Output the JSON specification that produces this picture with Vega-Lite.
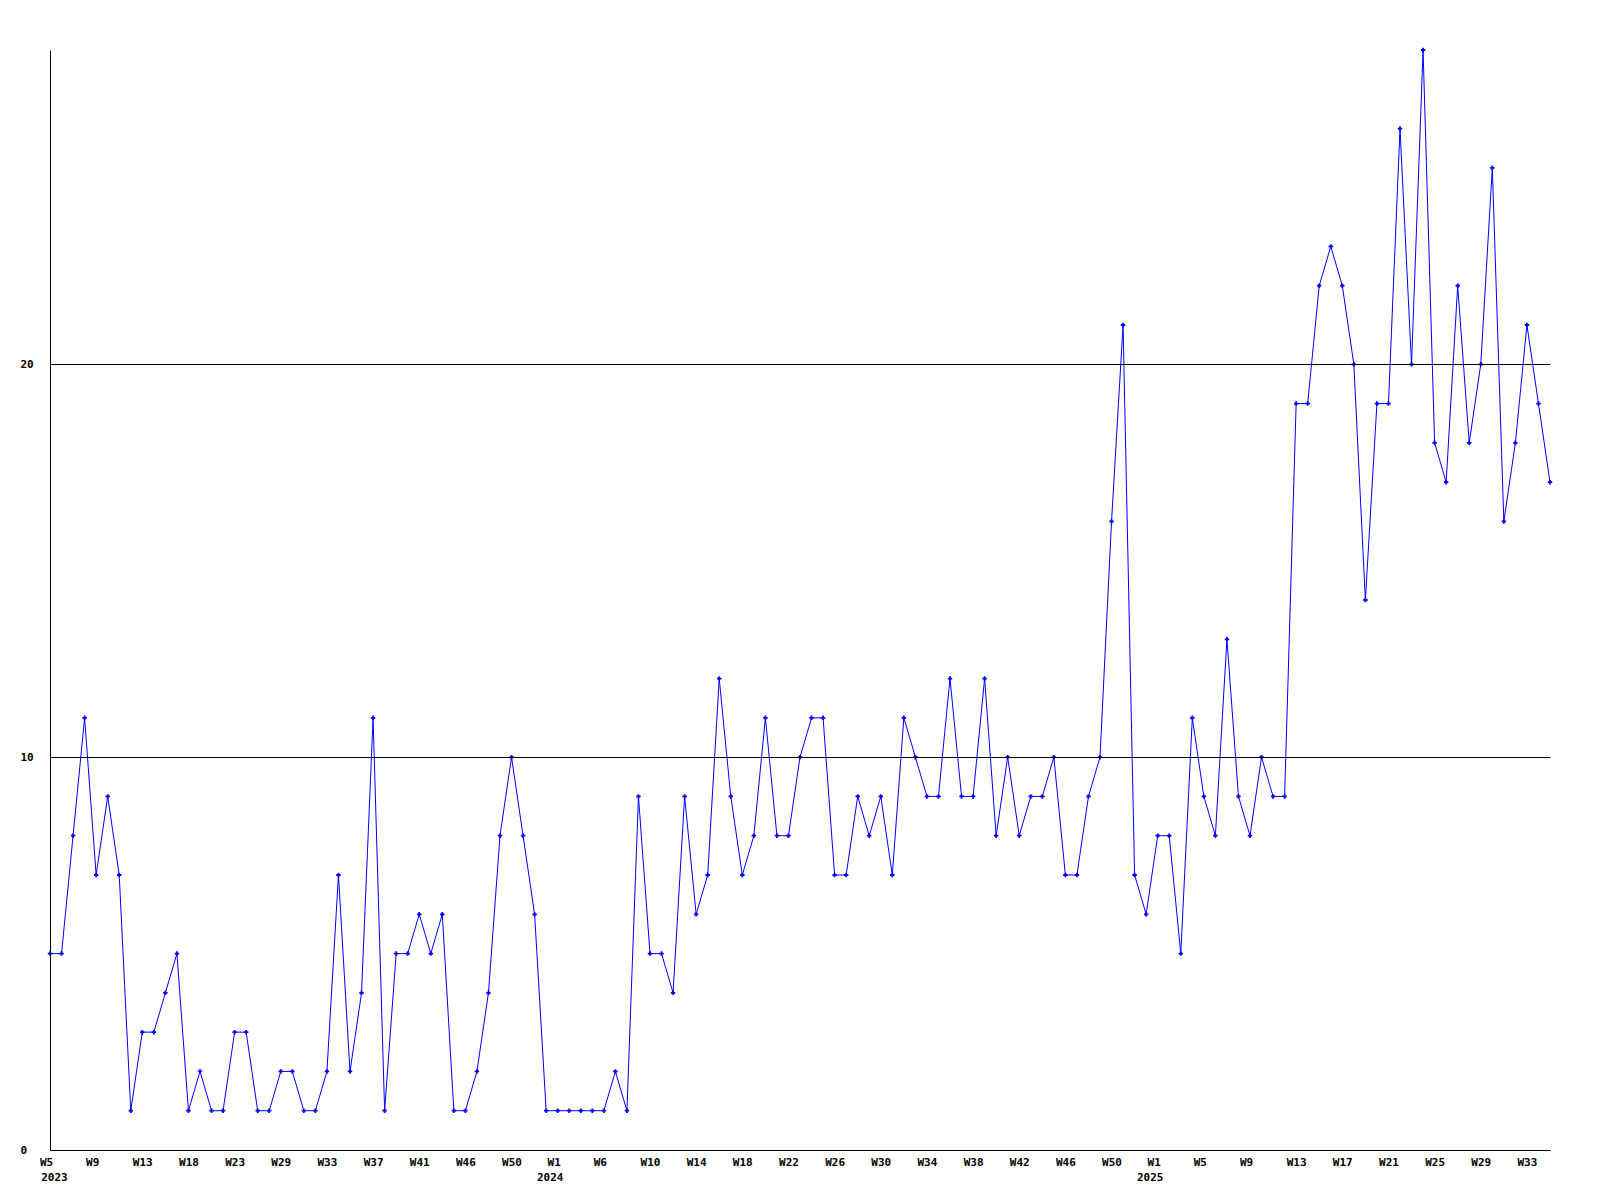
{
  "$schema": "https://vega.github.io/schema/vega-lite/v6.json",
  "width": 1500,
  "height": 1100,
  "autosize": {"type": "none"},
  "padding": {"left": 50, "top": 50, "right": 50, "bottom": 50},
  "background": "white",
  "config": {"view": {"stroke": null}},
  "data": {"values": [
    {"key": "2023-W5", "v": 5}, {"key": "2023-W6", "v": 5}, {"key": "2023-W7", "v": 8}, {"key": "2023-W8", "v": 11},
    {"key": "2023-W9", "v": 7}, {"key": "2023-W10", "v": 9}, {"key": "2023-W11", "v": 7}, {"key": "2023-W12", "v": 1},
    {"key": "2023-W13", "v": 3}, {"key": "2023-W14", "v": 3}, {"key": "2023-W15", "v": 4}, {"key": "2023-W16", "v": 5},
    {"key": "2023-W18", "v": 1}, {"key": "2023-W19", "v": 2}, {"key": "2023-W20", "v": 1}, {"key": "2023-W21", "v": 1},
    {"key": "2023-W23", "v": 3}, {"key": "2023-W24", "v": 3}, {"key": "2023-W26", "v": 1}, {"key": "2023-W27", "v": 1},
    {"key": "2023-W29", "v": 2}, {"key": "2023-W30", "v": 2}, {"key": "2023-W31", "v": 1}, {"key": "2023-W32", "v": 1},
    {"key": "2023-W33", "v": 2}, {"key": "2023-W34", "v": 7}, {"key": "2023-W35", "v": 2}, {"key": "2023-W36", "v": 4},
    {"key": "2023-W37", "v": 11}, {"key": "2023-W38", "v": 1}, {"key": "2023-W39", "v": 5}, {"key": "2023-W40", "v": 5},
    {"key": "2023-W41", "v": 6}, {"key": "2023-W42", "v": 5}, {"key": "2023-W43", "v": 6}, {"key": "2023-W44", "v": 1},
    {"key": "2023-W46", "v": 1}, {"key": "2023-W47", "v": 2}, {"key": "2023-W48", "v": 4}, {"key": "2023-W49", "v": 8},
    {"key": "2023-W50", "v": 10}, {"key": "2023-W51", "v": 8}, {"key": "2023-W52", "v": 6}, {"key": "2024-W0", "v": 1},
    {"key": "2024-W1", "v": 1}, {"key": "2024-W2", "v": 1}, {"key": "2024-W3", "v": 1}, {"key": "2024-W4", "v": 1},
    {"key": "2024-W6", "v": 1}, {"key": "2024-W7", "v": 2}, {"key": "2024-W8", "v": 1}, {"key": "2024-W9", "v": 9},
    {"key": "2024-W10", "v": 5}, {"key": "2024-W11", "v": 5}, {"key": "2024-W12", "v": 4}, {"key": "2024-W13", "v": 9},
    {"key": "2024-W14", "v": 6}, {"key": "2024-W15", "v": 7}, {"key": "2024-W16", "v": 12}, {"key": "2024-W17", "v": 9},
    {"key": "2024-W18", "v": 7}, {"key": "2024-W19", "v": 8}, {"key": "2024-W20", "v": 11}, {"key": "2024-W21", "v": 8},
    {"key": "2024-W22", "v": 8}, {"key": "2024-W23", "v": 10}, {"key": "2024-W24", "v": 11}, {"key": "2024-W25", "v": 11},
    {"key": "2024-W26", "v": 7}, {"key": "2024-W27", "v": 7}, {"key": "2024-W28", "v": 9}, {"key": "2024-W29", "v": 8},
    {"key": "2024-W30", "v": 9}, {"key": "2024-W31", "v": 7}, {"key": "2024-W32", "v": 11}, {"key": "2024-W33", "v": 10},
    {"key": "2024-W34", "v": 9}, {"key": "2024-W35", "v": 9}, {"key": "2024-W36", "v": 12}, {"key": "2024-W37", "v": 9},
    {"key": "2024-W38", "v": 9}, {"key": "2024-W39", "v": 12}, {"key": "2024-W40", "v": 8}, {"key": "2024-W41", "v": 10},
    {"key": "2024-W42", "v": 8}, {"key": "2024-W43", "v": 9}, {"key": "2024-W44", "v": 9}, {"key": "2024-W45", "v": 10},
    {"key": "2024-W46", "v": 7}, {"key": "2024-W47", "v": 7}, {"key": "2024-W48", "v": 9}, {"key": "2024-W49", "v": 10},
    {"key": "2024-W50", "v": 16}, {"key": "2024-W51", "v": 21}, {"key": "2024-W52", "v": 7}, {"key": "2025-W0", "v": 6},
    {"key": "2025-W1", "v": 8}, {"key": "2025-W2", "v": 8}, {"key": "2025-W3", "v": 5}, {"key": "2025-W4", "v": 11},
    {"key": "2025-W5", "v": 9}, {"key": "2025-W6", "v": 8}, {"key": "2025-W7", "v": 13}, {"key": "2025-W8", "v": 9},
    {"key": "2025-W9", "v": 8}, {"key": "2025-W10", "v": 10}, {"key": "2025-W11", "v": 9}, {"key": "2025-W12", "v": 9},
    {"key": "2025-W13", "v": 19}, {"key": "2025-W14", "v": 19}, {"key": "2025-W15", "v": 22}, {"key": "2025-W16", "v": 23},
    {"key": "2025-W17", "v": 22}, {"key": "2025-W18", "v": 20}, {"key": "2025-W19", "v": 14}, {"key": "2025-W20", "v": 19},
    {"key": "2025-W21", "v": 19}, {"key": "2025-W22", "v": 26}, {"key": "2025-W23", "v": 20}, {"key": "2025-W24", "v": 28},
    {"key": "2025-W25", "v": 18}, {"key": "2025-W26", "v": 17}, {"key": "2025-W27", "v": 22}, {"key": "2025-W28", "v": 18},
    {"key": "2025-W29", "v": 20}, {"key": "2025-W30", "v": 25}, {"key": "2025-W31", "v": 16}, {"key": "2025-W32", "v": 18},
    {"key": "2025-W33", "v": 21}, {"key": "2025-W34", "v": 19}, {"key": "2025-W35", "v": 17}
  ]},
  "encoding": {
    "x": {
      "field": "key",
      "type": "ordinal",
      "sort": null,
      "scale": {"type": "point", "padding": 0},
      "axis": {
        "title": null,
        "values": ["2023-W5", "2023-W9", "2023-W13", "2023-W18", "2023-W23", "2023-W29", "2023-W33", "2023-W37", "2023-W41", "2023-W46", "2023-W50",
                   "2024-W1", "2024-W6", "2024-W10", "2024-W14", "2024-W18", "2024-W22", "2024-W26", "2024-W30", "2024-W34", "2024-W38", "2024-W42", "2024-W46", "2024-W50",
                   "2025-W1", "2025-W5", "2025-W9", "2025-W13", "2025-W17", "2025-W21", "2025-W25", "2025-W29", "2025-W33"],
        "labelExpr": "datum.value == '2023-W5' ? [pad(split(datum.value,'-')[1], 4, '\u2800'), '2023'] : (split(datum.value,'-')[1] == 'W1' ? [pad(split(datum.value,'-')[1], 4, '\u2800'), split(datum.value,'-')[0] + '\u2800\u2800\u2800'] : pad(split(datum.value,'-')[1], 4, '\u2800'))",
        "labelAngle": 0,
        "labelAlign": "center",
        "labelOffset": 4,
        "labelFont": "DejaVu Sans Mono",
        "labelFontSize": 11,
        "labelFontWeight": "bold",
        "labelColor": "#000000",
        "labelPadding": 6,
        "labelLineHeight": 15,
        "labelOverlap": false,
        "labelBound": false,
        "ticks": false,
        "tickSize": 0,
        "grid": false,
        "domainColor": "#000000",
        "domainWidth": 1
      }
    },
    "y": {
      "field": "v",
      "type": "quantitative",
      "scale": {"domain": [0, 28], "nice": false, "zero": true},
      "axis": {
        "title": null,
        "values": [0, 10, 20],
        "grid": true,
        "gridColor": "#000000",
        "gridOpacity": 1,
        "gridWidth": 1,
        "ticks": false,
        "tickSize": 0,
        "domainColor": "#000000",
        "domainWidth": 1,
        "labelAlign": "left",
        "labelPadding": 30,
        "labelFont": "DejaVu Sans Mono",
        "labelFontSize": 11,
        "labelFontWeight": "bold",
        "labelColor": "#000000",
        "zindex": 1
      }
    }
  },
  "layer": [
    {"mark": {"type": "line", "color": "#0000ff", "strokeWidth": 1}},
    {"mark": {"type": "point", "shape": "cross", "filled": true, "color": "#0000ff", "size": 20, "opacity": 1}}
  ]
}
